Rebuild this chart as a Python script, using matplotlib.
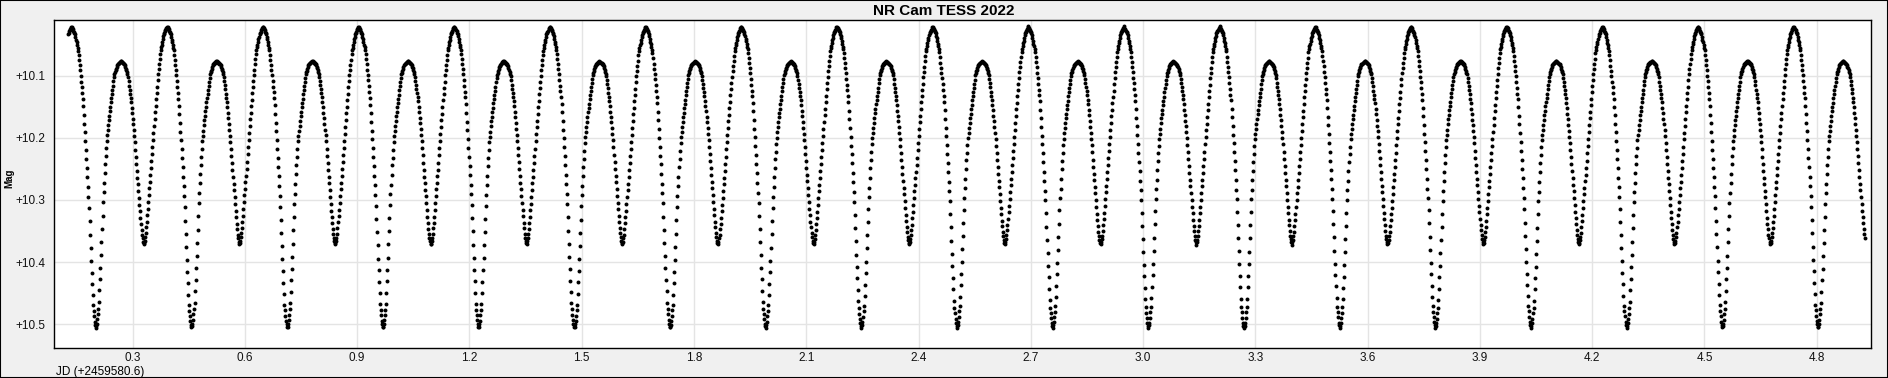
import numpy as np
import matplotlib
matplotlib.use("Agg")
import matplotlib.pyplot as plt
from matplotlib.patches import Rectangle

# one cycle of the light curve (phase 0 = primary minimum)
phase_pts = [0.000, 0.012, 0.030, 0.050, 0.075, 0.095, 0.112, 0.135, 0.157, 0.192,
             0.222, 0.262, 0.302, 0.332, 0.367, 0.388, 0.405, 0.419, 0.432, 0.445,
             0.457, 0.469, 0.481, 0.491, 0.500, 0.509, 0.519, 0.531, 0.543, 0.555,
             0.568, 0.581, 0.595, 0.612, 0.630, 0.650, 0.675, 0.710, 0.745, 0.780,
             0.815, 0.840, 0.865, 0.888, 0.905, 0.925, 0.950, 0.970, 0.988]
mag_pts = [10.507, 10.497, 10.468, 10.400, 10.302, 10.245, 10.205, 10.170, 10.141, 10.098,
           10.082, 10.076, 10.082, 10.098, 10.141, 10.175, 10.205, 10.235, 10.262, 10.287,
           10.312, 10.335, 10.355, 10.366, 10.372, 10.366, 10.355, 10.335, 10.312, 10.287,
           10.262, 10.235, 10.205, 10.170, 10.135, 10.098, 10.060, 10.032, 10.020, 10.032,
           10.060, 10.098, 10.141, 10.200, 10.245, 10.302, 10.400, 10.468, 10.497]

period = 0.25564        # days
epoch = 0.202           # primary minimum, JD - 2459580.6
t_first = 0.128
t_last = 4.929
cadence = 2.0 / 1440    # TESS 2-min

x_ticks = [0.3, 0.6, 0.9, 1.2, 1.5, 1.8, 2.1, 2.4, 2.7, 3.0, 3.3, 3.6, 3.9, 4.2, 4.5, 4.8]
y_ticks = [10.1, 10.2, 10.3, 10.4, 10.5]

# observation times and magnitudes from the phased curve
t = np.arange(t_first, t_last, cadence)
ph = ((t - epoch) / period) % 1.0
mag = np.interp(ph, phase_pts + [1.0], mag_pts + [mag_pts[0]])

plt.rcParams['font.family'] = ['Liberation Sans', 'DejaVu Sans']

W, H = 1888, 378
fig = plt.figure(figsize=(W / 100, H / 100), dpi=100, facecolor='#F0F0F0')
ax = fig.add_axes([54 / W, 1 - 348 / H, (1871 - 54) / W, (348 - 20) / H])
ax.set_facecolor('white')

ax.scatter(t, mag, s=8, c='black', linewidths=0, zorder=3)

ax.set_xlim(0.090, 4.945)
ax.set_ylim(10.5387, 10.0097)
ax.set_xticks(x_ticks)
ax.set_xticklabels([f"{v:.1f}" for v in x_ticks])
ax.set_yticks(y_ticks)
ax.set_yticklabels([f"+{v:.1f}" for v in y_ticks])
ax.tick_params(length=0, labelsize=8.5, colors='#111111')
ax.tick_params(axis='y', pad=6)
ax.tick_params(axis='x', pad=3)
ax.grid(color='#E4E4E4', lw=1, zorder=0)
for s in ax.spines.values():
    s.set_color('black')
    s.set_linewidth(1)

fig.text(944 / W, 1 - 11 / H, "NR Cam TESS 2022", ha='center', va='center',
         fontsize=11, fontweight='bold')
fig.text(56 / W, 1 - 372 / H, "JD (+2459580.6)", ha='left', va='center', fontsize=8.5)
fig.text(9 / W, 1 - 178 / H, "Mag", rotation=90, ha='center', va='center',
         fontsize=7, fontweight='bold')

fig.patches.append(Rectangle((0, 0), 1, 1, transform=fig.transFigure, fill=False,
                             edgecolor='black', lw=1.5))

fig.savefig("out.png", dpi=100, facecolor=fig.get_facecolor())
